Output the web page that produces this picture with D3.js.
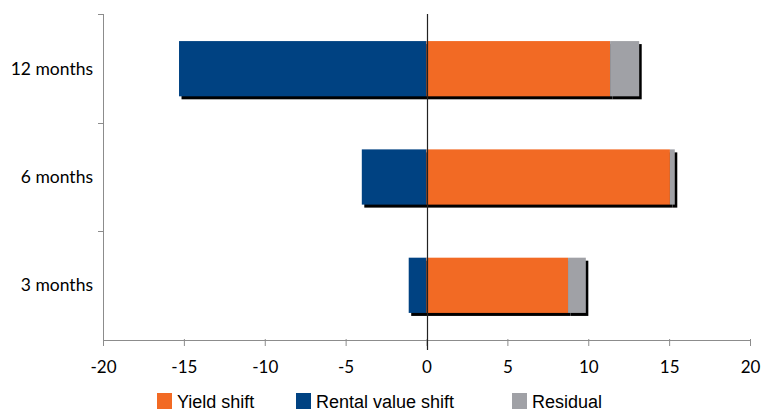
<!DOCTYPE html>
<html>
<head>
<meta charset="utf-8">
<script src="https://cdn.jsdelivr.net/npm/d3@7"></script>
<style>
  body { margin: 0; background: #fff; }
  svg { display: block; }
</style>
</head>
<body>
<div class="chart"></div>
<script>
const W = 761, H = 414;
const margin = {top: 14, right: 11, bottom: 74, left: 103};

// data
const periods = ["12 months", "6 months", "3 months"];
const rentalShift = [-15.3, -4.0, -1.1];
const yieldShift = [11.35, 15.05, 8.75];
const residual = [1.8, 0.3, 1.1];
const xTicks = [-20, -15, -10, -5, 0, 5, 10, 15, 20];

const series = [
  {name: "Yield shift", color: "#F26A24"},
  {name: "Rental value shift", color: "#004282"},
  {name: "Residual", color: "#A0A1A6"}
];

const svg = d3.select(".chart").append("svg")
    .attr("width", W)
    .attr("height", H);

const x = d3.scaleLinear()
    .domain([-20, 20])
    .range([margin.left, W - margin.right]);

const y = d3.scaleBand()
    .domain(periods)
    .range([margin.top, H - margin.bottom])
    .paddingInner(0.49)
    .paddingOuter(0.25);

// build segments per period
const segs = [];
periods.forEach((p, i) => {
  segs.push({p: p, x0: rentalShift[i], x1: 0, c: series[1].color});
  segs.push({p: p, x0: 0, x1: yieldShift[i], c: series[0].color});
  segs.push({p: p, x0: yieldShift[i], x1: yieldShift[i] + residual[i], c: series[2].color});
});

// shadows
svg.append("g").selectAll("rect")
  .data(segs)
  .join("rect")
    .attr("x", d => x(Math.min(d.x0, d.x1)) + 2.5)
    .attr("y", d => y(d.p) + 3)
    .attr("width", d => Math.abs(x(d.x1) - x(d.x0)))
    .attr("height", y.bandwidth())
    .attr("fill", "#000");

svg.append("g").selectAll("rect")
  .data(segs)
  .join("rect")
    .attr("x", d => x(Math.min(d.x0, d.x1)))
    .attr("y", d => y(d.p))
    .attr("width", d => Math.abs(x(d.x1) - x(d.x0)))
    .attr("height", y.bandwidth())
    .attr("fill", d => d.c);

const y0 = H - margin.bottom;

// x axis
const xAxis = svg.append("g")
    .attr("transform", `translate(0,${y0})`)
    .call(d3.axisBottom(x).tickValues(xTicks).tickSize(6).tickPadding(15)
      .tickSizeOuter(0).tickFormat(d => String(d)));
xAxis.select(".domain").attr("stroke", "#8c8c8c");
xAxis.selectAll(".tick line").attr("stroke", "#8c8c8c").attr("y1", -1);
xAxis.selectAll(".tick text")
    .attr("fill", "#000")
    .style("font-family", "Lato, Carlito, sans-serif")
    .style("font-size", "17px");

// y axis
const bounds = [margin.top, ...periods.map((p, i) => y(p) + y.bandwidth() / 2 + y.step() / 2)];
svg.append("line")
    .attr("x1", margin.left + 0.5).attr("x2", margin.left + 0.5)
    .attr("y1", margin.top).attr("y2", y0)
    .attr("stroke", "#8c8c8c");
svg.append("g").selectAll("line")
  .data(bounds.slice(0, 3))
  .join("line")
    .attr("x1", margin.left - 5).attr("x2", margin.left)
    .attr("y1", d => Math.round(d) + 0.5).attr("y2", d => Math.round(d) + 0.5)
    .attr("stroke", "#8c8c8c");

svg.append("g").selectAll("text")
  .data(periods)
  .join("text")
    .attr("x", margin.left - 10)
    .attr("y", d => y(d) + y.bandwidth() / 2)
    .attr("dy", "0.35em")
    .attr("text-anchor", "end")
    .style("font-family", "Lato, Carlito, sans-serif")
    .style("font-size", "17.5px")
    .text(d => d);

// zero line
svg.append("line")
    .attr("x1", Math.round(x(0)) + 0.5).attr("x2", Math.round(x(0)) + 0.5)
    .attr("y1", margin.top).attr("y2", y0 + 10)
    .attr("stroke", "#222")
    .attr("stroke-width", 1.2);

// legend
const legendX = [157, 296, 512];
const lg = svg.append("g").selectAll("g")
  .data(series)
  .join("g")
    .attr("transform", (d, i) => `translate(${legendX[i]},393)`);
lg.append("rect")
    .attr("width", 15).attr("height", 16)
    .attr("fill", d => d.color);
lg.append("text")
    .attr("x", 20).attr("y", 8.5)
    .attr("dy", "0.35em")
    .style("font-family", "Liberation Sans, Arial, sans-serif")
    .style("font-size", "18px")
    .text(d => d.name);
</script>
</body>
</html>
